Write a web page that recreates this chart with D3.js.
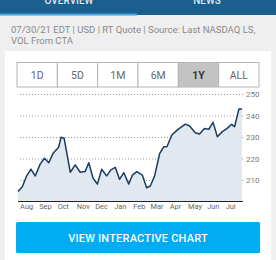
<!DOCTYPE html>
<html>
<head>
<meta charset="utf-8">
<script src="https://cdn.jsdelivr.net/npm/d3@7"></script>
<style>
  html, body { margin: 0; padding: 0; background: #efefef; }
  svg { display: block; }
</style>
</head>
<body>
<div id="chart"></div>
<script>
var dates = ["2020-07-31","2020-08-07","2020-08-14","2020-08-21","2020-08-28","2020-09-05","2020-09-12",
    "2020-09-19","2020-09-26","2020-10-05","2020-10-09","2020-10-14","2020-10-24","2020-11-01",
    "2020-11-09","2020-11-17","2020-11-23","2020-11-30","2020-12-07","2020-12-14","2020-12-22",
    "2020-12-29","2021-01-05","2021-01-12","2021-01-19","2021-01-27","2021-02-02","2021-02-09",
    "2021-02-18","2021-02-25","2021-03-03","2021-03-10","2021-03-18","2021-03-25","2021-03-30",
    "2021-04-07","2021-04-16","2021-04-29","2021-05-06","2021-05-15","2021-05-22","2021-05-30",
    "2021-06-06","2021-06-13","2021-06-20","2021-06-28","2021-07-06","2021-07-13","2021-07-18",
    "2021-07-25","2021-07-30"];
var closes = [204.6,206.9,211.9,215,211.9,217.4,220.1,218,222.4,225.2,229.9,229.4,213.6,217,
    213.6,213.9,218,210.8,208.1,215,211.9,214.7,215.9,210.3,213.4,208.1,212.3,213.9,
    212.3,206.4,207.2,211.9,222.1,225.5,225.5,230.9,233.3,236,235.1,232,231.4,234,
    233.6,236.8,230.1,232.5,234,235.9,234.8,243,243];
var yTicks = [210, 220, 230, 240, 250];
var ranges = ["1D", "5D", "1M", "6M", "1Y", "ALL"];
var selectedRange = "1Y";
var tabs = ["OVERVIEW", "NEWS"];

var width = 276, height = 260;
var font = "Roboto, 'Open Sans', sans-serif";

var svg = d3.select("#chart").append("svg")
    .attr("width", width)
    .attr("height", height)
    .style("font-family", font)

// top tab bar (labels are scrolled partly out of view, as in the screenshot)
svg.append("rect").attr("x", 0).attr("y", 0).attr("width", width).attr("height", 15).attr("fill", "#1b5f8f")
svg.append("rect").attr("x", 0).attr("y", 13.5).attr("width", 137).attr("height", 2).attr("fill", "#3fa6de")
svg.selectAll(".tab").data(tabs).enter().append("text")
    .attr("x", function(d, i) { return i == 0 ? 69 : 207 })
    .attr("y", 4)
    .attr("text-anchor", "middle")
    .attr("fill", "#dfe9f1")
    .style("font-size", "10px")
    .style("font-weight", 500)
    .text(function(d) { return d })

// quote source lines
var info = svg.append("text")
    .attr("fill", "#8a8a8a")
    .style("font-size", "9.5px")
info.append("tspan").attr("x", 11).attr("y", 33).text("07/30/21 EDT | USD | RT Quote | Source: Last NASDAQ LS,")
info.append("tspan").attr("x", 11).attr("y", 44).text("VOL From CTA")

// white card
svg.append("rect").attr("x", 5).attr("y", 51).attr("width", 266).attr("height", 215).attr("fill", "#fff")

// range buttons
var btnX = d3.scaleBand().domain(ranges).range([17, 259])
var btns = svg.selectAll(".range").data(ranges).enter().append("g")
    .attr("transform", function(d) { return "translate(" + btnX(d) + ",62.5)" })
btns.append("rect")
    .attr("width", btnX.bandwidth())
    .attr("height", 24.5)
    .attr("fill", function(d) { return d == selectedRange ? "#c3c3c3" : "#fff" })
    .attr("stroke", "#b5b5b5")
    .attr("stroke-width", 1)
btns.append("text")
    .attr("x", btnX.bandwidth() / 2)
    .attr("y", 16.5)
    .attr("text-anchor", "middle")
    .attr("fill", function(d) { return d == selectedRange ? "#333" : "#666" })
    .style("font-size", "10.5px")
    .style("font-weight", function(d) { return d == selectedRange ? 700 : 400 })
    .text(function(d) { return d })

// chart
var parse = d3.timeParse("%Y-%m-%d")
var data = dates.map(function(d, i) { return { date: parse(d), close: closes[i] } })

var x = d3.scaleTime()
    .domain([parse("2020-07-31"), parse("2021-07-30")])
    .range([18, 242])
var y = d3.scaleLinear().domain([210, 250]).range([180, 94])

var grid = svg.append("g")
    .attr("transform", "translate(243,0)")
    .call(d3.axisRight(y).tickValues(yTicks).tickSize(-225).tickPadding(3))
grid.select(".domain").remove()
grid.selectAll("line").attr("stroke", "#9a9a9a").attr("stroke-dasharray", "1,2")
grid.selectAll("text").attr("fill", "#7a7a7a").style("font-size", "8px").style("font-family", font)

var baseY = 201
var area = d3.area()
    .x(function(d) { return x(d.date) })
    .y0(baseY)
    .y1(function(d) { return y(d.close) })
svg.append("path").datum(data).attr("d", area).attr("fill", "#e2e8ef")

var line = d3.line()
    .x(function(d) { return x(d.date) })
    .y(function(d) { return y(d.close) })
svg.append("path").datum(data).attr("d", line)
    .attr("fill", "none")
    .attr("stroke", "#1a3c62")
    .attr("stroke-width", 1.5)
    .attr("stroke-linejoin", "round")

var xAxis = svg.append("g")
    .attr("transform", "translate(0," + baseY + ")")
    .call(d3.axisBottom(x).ticks(d3.timeMonth.every(1)).tickFormat(d3.timeFormat("%b")).tickSize(0).tickPadding(3))
xAxis.select(".domain").attr("stroke", "#222").attr("d", "M18,0.5H243")
xAxis.selectAll("text")
    .attr("text-anchor", "start")
    .attr("dx", "1px")
    .attr("fill", "#666")
    .style("font-size", "7.4px")
    .style("font-family", font)

// interactive chart button
svg.append("rect").attr("x", 16).attr("y", 222).attr("width", 244).attr("height", 31)
    .attr("rx", 1.5).attr("fill", "#02acf1")
svg.append("text")
    .attr("x", 138).attr("y", 242)
    .attr("text-anchor", "middle")
    .attr("fill", "#fff")
    .style("font-size", "11px")
    .style("font-weight", 500)
    .style("letter-spacing", "0.2px")
    .text("VIEW INTERACTIVE CHART")
</script>
</body>
</html>
